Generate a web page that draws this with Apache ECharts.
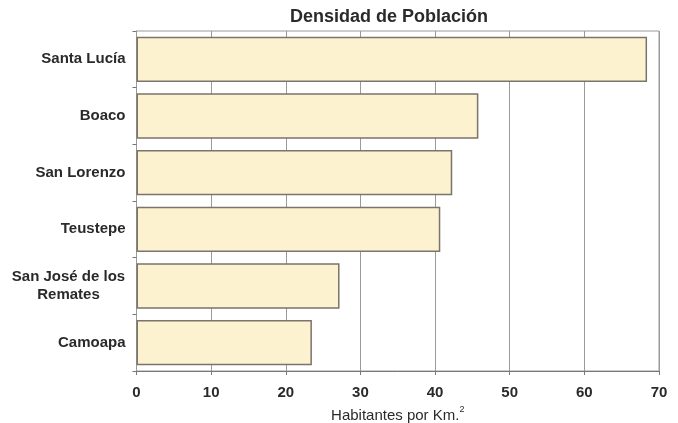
<!DOCTYPE html>
<html><head><meta charset="utf-8">
<script src="https://cdn.jsdelivr.net/npm/echarts@6/dist/echarts.min.js"></script>
<style>html,body{margin:0;padding:0;background:#fff}#c{width:678px;height:423px}</style>
</head><body><div id="c"></div>
<script>
const title = 'Densidad de Población';
const categories = ['Santa Lucía', 'Boaco', 'San Lorenzo', 'Teustepe', 'San José de los\nRemates', 'Camoapa'];
const values = [68.4, 45.8, 42.3, 40.7, 27.2, 23.5];
const axisName = 'Habitantes por Km.';
const xTicks = [0, 10, 20, 30, 40, 50, 60, 70];

const FONT = 'Liberation Sans';
const TXT = '#2a2a2a';
const chart = echarts.init(document.getElementById('c'), null, {renderer: 'canvas'});
chart.setOption({
  animation: false,
  backgroundColor: '#fff',
  title: {
    text: title, left: 384, top: 3, textAlign: 'center',
    textStyle: {fontFamily: FONT, fontWeight: 'bold', fontSize: 18, color: TXT}
  },
  grid: {left: 136.5, right: 19, top: 31, bottom: 52, show: true, borderColor: '#9a9a9a', borderWidth: 1,
         containLabel: false, outerBoundsMode: 'none'},
  xAxis: {
    type: 'value', min: xTicks[0], max: xTicks[xTicks.length - 1], interval: 10,
    name: '{n|' + axisName + '}{s|2}', nameLocation: 'middle', nameGap: 29,
    nameTextStyle: {
      fontFamily: FONT, fontSize: 15, color: TXT,
      rich: {
        n: {fontFamily: FONT, fontSize: 15, color: TXT, verticalAlign: 'bottom', lineHeight: 18},
        s: {fontFamily: FONT, fontSize: 9, color: TXT, verticalAlign: 'top', lineHeight: 18, padding: [0, 0, 8, 0]}
      }
    },
    axisLine: {show: true, lineStyle: {color: '#777'}},
    axisTick: {show: true, length: 4, lineStyle: {color: '#777'}},
    axisLabel: {fontFamily: FONT, fontWeight: 'bold', fontSize: 15, color: TXT, margin: 14},
    splitLine: {show: true, lineStyle: {color: '#9a9a9a', width: 1}}
  },
  yAxis: {
    type: 'category', data: categories, inverse: true,
    axisLine: {show: true, lineStyle: {color: '#9a9a9a'}},
    axisTick: {show: true, length: 4, lineStyle: {color: '#777'}},
    axisLabel: {
      fontFamily: FONT, fontWeight: 'bold', fontSize: 15, color: TXT, margin: 11, lineHeight: 18,
      formatter: v => v.indexOf('\n') >= 0 ? v.split('\n').map(s => '{c|' + s + '}').join('\n') : v,
      rich: {c: {width: 114, align: 'center', fontFamily: FONT, fontWeight: 'bold', fontSize: 15, color: TXT, lineHeight: 18}}
    },
    splitLine: {show: false}
  },
  series: [{
    type: 'bar', data: values, barCategoryGap: '20%',
    itemStyle: {color: '#FCF2D0', borderColor: '#7a746a', borderWidth: 1.5}
  }]
});
</script></body></html>
